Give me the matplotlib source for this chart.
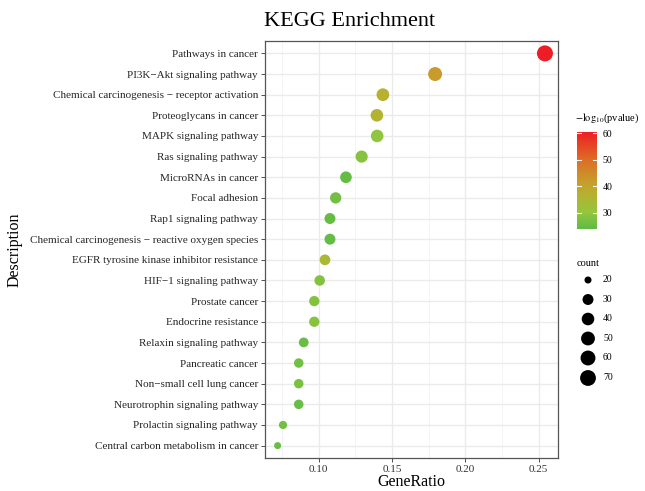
import numpy as np
import matplotlib
matplotlib.use("Agg")
import matplotlib.pyplot as plt
from matplotlib.colors import LinearSegmentedColormap, Normalize

plt.rcParams["font.family"] = ["Liberation Serif", "DejaVu Serif"]
plt.rcParams["mathtext.fontset"] = "stix"

# KEGG terms, top to bottom
terms = [
    "Pathways in cancer",
    "PI3K\u2212Akt signaling pathway",
    "Chemical carcinogenesis \u2212 receptor activation",
    "Proteoglycans in cancer",
    "MAPK signaling pathway",
    "Ras signaling pathway",
    "MicroRNAs in cancer",
    "Focal adhesion",
    "Rap1 signaling pathway",
    "Chemical carcinogenesis \u2212 reactive oxygen species",
    "EGFR tyrosine kinase inhibitor resistance",
    "HIF\u22121 signaling pathway",
    "Prostate cancer",
    "Endocrine resistance",
    "Relaxin signaling pathway",
    "Pancreatic cancer",
    "Non\u2212small cell lung cancer",
    "Neurotrophin signaling pathway",
    "Prolactin signaling pathway",
    "Central carbon metabolism in cancer",
]
gene_ratio = [0.2543, 0.1794, 0.1438, 0.1397, 0.1399, 0.1293, 0.1186, 0.1116,
              0.1077, 0.1077, 0.1043, 0.1007, 0.0970, 0.0970, 0.0898, 0.0864,
              0.0864, 0.0864, 0.0757, 0.0720]
counts = [72, 51, 41, 40, 40, 37, 34, 32, 30, 30, 29, 28, 27, 27, 25, 24, 24, 24, 21, 20]
neg_log_p = [60.5, 42.0, 37.0, 36.0, 29.5, 28.5, 24.5, 26.0, 24.5, 24.5, 34.5,
             28.0, 28.0, 28.5, 25.0, 26.0, 27.0, 25.0, 26.0, 25.0]

legend_counts = [20, 30, 40, 50, 60, 70]
cbar_ticks = [30, 40, 50, 60]

DPI = 100
cmin, cmax = min(counts), max(counts)
pmin, pmax = 23.8, 60.5

cmap = LinearSegmentedColormap.from_list(
    "pval",
    [(0.0, "#5fbb46"), (0.17, "#95c63c"), (0.36, "#b8b030"),
     (0.50, "#c99a2b"), (0.72, "#de6a27"), (1.0, "#ee1c24")],
)
norm = Normalize(pmin, pmax)


def dot_size(c):
    # area-style scaling, diameter in px -> scatter size in pt^2
    c = np.asarray(c, dtype=float)
    d_px = 7 + 9 * np.sqrt(np.clip((c - cmin) / (cmax - cmin), 0, 1))
    return (d_px * 72 / DPI) ** 2


fig = plt.figure(figsize=(6.45, 4.91), dpi=DPI, facecolor="white")
ax = fig.add_axes([265 / 645, 33 / 491, 292.7 / 645, 417 / 491])

n = len(terms)
ypos = np.arange(n)[::-1]
ax.scatter(gene_ratio, ypos, s=dot_size(counts), c=neg_log_p, cmap=cmap, norm=norm,
           linewidths=0, zorder=3)

ax.set_xlim(0.0634, 0.2630)
ax.set_ylim(-0.6, n - 1 + 0.6)
ax.set_yticks(ypos)
ax.set_yticklabels(terms, fontsize=8, color="#262626")
ax.set_xticks([0.10, 0.15, 0.20, 0.25])
ax.set_xticklabels(["0.10", "0.15", "0.20", "0.25"], fontsize=8, color="#333333")
ax.set_xticks([0.075, 0.125, 0.175, 0.225], minor=True)
ax.tick_params(axis="x", which="minor", length=0)
ax.tick_params(which="major", length=3, width=0.6, color="#333333", pad=2)
ax.grid(True, which="major", color="#ebebeb", linewidth=1.0, zorder=0)
ax.grid(True, which="minor", axis="x", color="#f2f2f2", linewidth=0.6, zorder=0)
ax.set_axisbelow(True)
for sp in ax.spines.values():
    sp.set_color("#555555")
    sp.set_linewidth(0.9)

fig.text(411 / 645, 1 - 482 / 491, "GeneRatio", fontsize=11.5, ha="center", va="center")
fig.text(15 / 645, 1 - 250 / 491, "Description", fontsize=11.5, ha="center", va="center",
         rotation=90)
fig.text(264 / 645, 1 - 21 / 491, "KEGG Enrichment", fontsize=16, ha="left", va="center")

# colour bar
cax = fig.add_axes([577 / 645, 1 - 229 / 491, 20 / 645, 97.3 / 491])
grad = np.linspace(pmin, pmax, 256).reshape(-1, 1)
cax.imshow(grad, aspect="auto", cmap=cmap, norm=norm, origin="lower",
           extent=(0, 1, pmin, pmax))
cax.set_xlim(0, 1)
cax.set_ylim(pmin, pmax)
for t in cbar_ticks:
    cax.plot([0, 0.2], [t, t], color="white", lw=0.8)
    cax.plot([0.8, 1], [t, t], color="white", lw=0.8)
cax.set_xticks([])
cax.yaxis.tick_right()
cax.set_yticks(cbar_ticks)
cax.set_yticklabels([str(t) for t in cbar_ticks], fontsize=7)
cax.tick_params(axis="y", length=0, pad=4)
for sp in cax.spines.values():
    sp.set_visible(False)
fig.text(575 / 645, 1 - 118 / 491, r"$\mathrm{-log_{10}}$(pvalue)", fontsize=7.5,
         ha="left", va="center")

# size legend
lax = fig.add_axes([577 / 645, 1 - 388 / 491, 40 / 645, 118 / 491])
lax.set_xlim(0, 40)
lax.set_ylim(388, 270)
leg_y = [280, 299.5, 319, 338.5, 358, 378]
lax.scatter([11] * len(legend_counts), leg_y, s=dot_size(legend_counts), color="black",
            linewidths=0)
for c, y in zip(legend_counts, leg_y):
    lax.text(26, y, str(c), fontsize=7, ha="left", va="center")
lax.axis("off")
fig.text(577 / 645, 1 - 263 / 491, "count", fontsize=7.5, ha="left", va="center")

fig.savefig("out.png", dpi=DPI, facecolor="white")
